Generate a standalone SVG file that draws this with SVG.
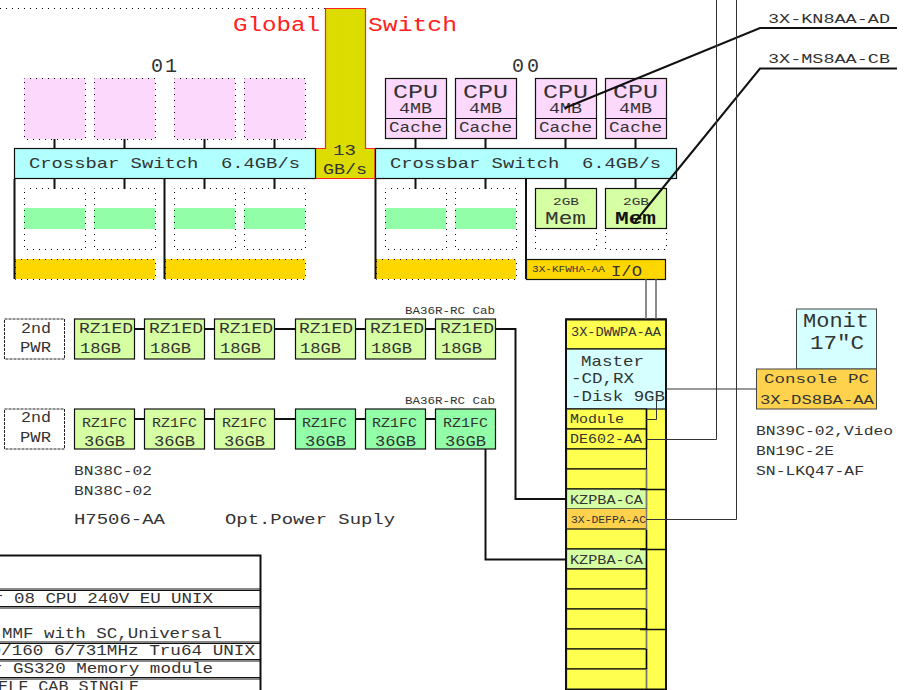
<svg xmlns="http://www.w3.org/2000/svg" width="906" height="690" viewBox="0 0 906 690">
<style>
text{font-family:"Liberation Mono","Courier New",monospace;fill:#333;white-space:pre}
.b{stroke:#111;stroke-width:1.2}
.d{stroke:#000;stroke-width:1;stroke-dasharray:1 5;stroke-dashoffset:.5;fill:none}
.pink{fill:#fdd8fd}.lg{fill:#d6ffa4}.g{fill:#92ffa8}.gold{fill:#ffd700;stroke:none}.cy{fill:#b2ffff}.lc{fill:#d6ffff}.y{fill:#ffff50}.o{fill:#ffd24d}
.w{fill:#fff}.t20{font-size:20px}.t15{font-size:15px}.t13{font-size:13px}.t10{font-size:10.5px}
.c{fill:none;stroke:#111;stroke-width:2}.c1{fill:none;stroke:#333;stroke-width:1}.cg{fill:none;stroke:#666;stroke-width:1.5}
.dash{stroke:#222;stroke-width:1;stroke-dasharray:3 1}
</style>
<path d="M0 8.500H325" stroke="#000" stroke-dasharray="1 5" fill="none"/>
<g id="global-switch"><path d="M325.500 8.500H365.500V148.500H375V178.500H315V148.500H325.500Z" fill="#dcdc00" stroke="#ff2020" stroke-width="1.200"/>
<text class="t20" x="233" y="31" textLength="87" lengthAdjust="spacingAndGlyphs" style="fill:#ff2020">Global</text>
<text class="t20" x="368" y="31" textLength="89" lengthAdjust="spacingAndGlyphs" style="fill:#ff2020">Switch</text>
<text class="t15" x="333" y="155" textLength="23" lengthAdjust="spacingAndGlyphs">13</text>
<text class="t15" x="323" y="174" textLength="44" lengthAdjust="spacingAndGlyphs">GB/s</text></g>
<text id="label-01" class="t20" x="151" y="72" textLength="26" lengthAdjust="spacing">01</text>
<text id="label-00" class="t20" x="512" y="72" textLength="27" lengthAdjust="spacing">00</text>

<g id="cpu-01-a"><rect x="24" y="78" width="61" height="61" class="pink"/><rect x="24.500" y="78.500" width="61" height="61" class="d"/></g>
<g id="cpu-01-b"><rect x="94" y="78" width="61" height="61" class="pink"/><rect x="94.500" y="78.500" width="61" height="61" class="d"/></g>
<g id="cpu-01-c"><rect x="174" y="78" width="61" height="61" class="pink"/><rect x="174.500" y="78.500" width="61" height="61" class="d"/></g>
<g id="cpu-01-d"><rect x="244" y="78" width="61" height="61" class="pink"/><rect x="244.500" y="78.500" width="61" height="61" class="d"/></g>

<g id="crossbar-01"><rect x="14.500" y="148.500" width="301" height="30" class="cy b"/><text class="t15" x="29" y="168" textLength="271" lengthAdjust="spacingAndGlyphs">Crossbar Switch  6.4GB/s</text></g>
<g id="crossbar-00"><rect x="375.500" y="148.500" width="301" height="30" class="cy b"/><text class="t15" x="390" y="168" textLength="271" lengthAdjust="spacingAndGlyphs">Crossbar Switch  6.4GB/s</text></g>

<g id="mem-01-a"><rect x="24" y="208" width="61" height="21" class="g"/><rect x="24.500" y="188.500" width="61" height="61" class="d"/></g>
<g id="mem-01-b"><rect x="94" y="208" width="61" height="21" class="g"/><rect x="94.500" y="188.500" width="61" height="61" class="d"/></g>
<g id="mem-01-c"><rect x="174" y="208" width="61" height="21" class="g"/><rect x="174.500" y="188.500" width="61" height="61" class="d"/></g>
<g id="mem-01-d"><rect x="244" y="208" width="61" height="21" class="g"/><rect x="244.500" y="188.500" width="61" height="61" class="d"/></g>
<g id="mem-00-a"><rect x="385" y="208" width="61" height="21" class="g"/><rect x="385.500" y="188.500" width="61" height="61" class="d"/></g>
<g id="mem-00-b"><rect x="455" y="208" width="61" height="21" class="g"/><rect x="455.500" y="188.500" width="61" height="61" class="d"/></g>

<g id="io-01-a"><rect x="15" y="259" width="140" height="20" class="gold"/><rect x="15.500" y="259.500" width="140" height="20" class="d"/></g>
<g id="io-01-b"><rect x="165" y="259" width="140" height="20" class="gold"/><rect x="165.500" y="259.500" width="140" height="20" class="d"/></g>
<g id="io-00-a"><rect x="376" y="259" width="140" height="20" class="gold"/><rect x="376.500" y="259.500" width="140" height="20" class="d"/></g>
<g id="io-00-b"><rect x="526.500" y="259.500" width="139" height="20" class="gold"/><rect x="526.500" y="259.500" width="139" height="20" fill="none" class="b"/>
<text x="532" y="272" style="font-size:9px" textLength="73" lengthAdjust="spacingAndGlyphs">3X-KFWHA-AA</text><text class="t15" x="611" y="276" textLength="31" lengthAdjust="spacingAndGlyphs">I/O</text></g>

<g id="cpu-00-a"><rect x="385.500" y="78.500" width="61" height="60" class="pink b"/><path d="M385.500 118.500H446.500" class="b"/><text class="t20" x="393" y="98" textLength="45" lengthAdjust="spacingAndGlyphs">CPU</text><text class="t15" x="399" y="113" textLength="33" lengthAdjust="spacingAndGlyphs">4MB</text><text class="t15" x="389" y="132" textLength="53" lengthAdjust="spacingAndGlyphs">Cache</text></g>
<g id="cpu-00-b"><rect x="455.500" y="78.500" width="61" height="60" class="pink b"/><path d="M455.500 118.500H516.500" class="b"/><text class="t20" x="463" y="98" textLength="45" lengthAdjust="spacingAndGlyphs">CPU</text><text class="t15" x="469" y="113" textLength="33" lengthAdjust="spacingAndGlyphs">4MB</text><text class="t15" x="459" y="132" textLength="53" lengthAdjust="spacingAndGlyphs">Cache</text></g>
<g id="cpu-00-c"><rect x="535.500" y="78.500" width="61" height="60" class="pink b"/><path d="M535.500 118.500H596.500" class="b"/><text class="t20" x="543" y="98" textLength="45" lengthAdjust="spacingAndGlyphs">CPU</text><text class="t15" x="549" y="113" textLength="33" lengthAdjust="spacingAndGlyphs">4MB</text><text class="t15" x="539" y="132" textLength="53" lengthAdjust="spacingAndGlyphs">Cache</text></g>
<g id="cpu-00-d"><rect x="605.500" y="78.500" width="61" height="60" class="pink b"/><path d="M605.500 118.500H666.500" class="b"/><text class="t20" x="613" y="98" textLength="45" lengthAdjust="spacingAndGlyphs">CPU</text><text class="t15" x="619" y="113" textLength="33" lengthAdjust="spacingAndGlyphs">4MB</text><text class="t15" x="609" y="132" textLength="53" lengthAdjust="spacingAndGlyphs">Cache</text></g>

<g id="mem-00-c"><rect x="535.500" y="188.500" width="61" height="40" class="lg b"/><rect x="535.500" y="228.500" width="61" height="21" class="d"/><text x="553" y="205" style="font-size:11.500px" textLength="26" lengthAdjust="spacingAndGlyphs">2GB</text><text x="545" y="224" textLength="41" lengthAdjust="spacingAndGlyphs" style="font-size:18px">Mem</text></g>
<g id="mem-00-d"><rect x="605.500" y="188.500" width="61" height="40" class="lg b"/><rect x="605.500" y="228.500" width="61" height="21" class="d"/><text x="623" y="205" style="font-size:11.500px" textLength="26" lengthAdjust="spacingAndGlyphs">2GB</text><text x="615" y="224" textLength="41" lengthAdjust="spacingAndGlyphs" style="font-size:18px;font-weight:bold;fill:#111">Mem</text></g>

<g id="pwr-1"><rect x="4.500" y="319" width="60" height="40" class="w dash"/><text class="t15" x="21" y="333" textLength="30" lengthAdjust="spacingAndGlyphs">2nd</text><text class="t15" x="20" y="352" textLength="31" lengthAdjust="spacingAndGlyphs">PWR</text></g>
<g id="pwr-2"><rect x="4.500" y="409" width="60" height="40" class="w dash"/><text class="t15" x="21" y="422" textLength="30" lengthAdjust="spacingAndGlyphs">2nd</text><text class="t15" x="20" y="442" textLength="31" lengthAdjust="spacingAndGlyphs">PWR</text></g>

<g id="d1a"><rect x="74.500" y="319" width="60" height="40" class="lg b"/><text class="t15" x="79" y="333" textLength="54" lengthAdjust="spacingAndGlyphs">RZ1ED</text><text class="t15" x="80" y="353" textLength="41" lengthAdjust="spacingAndGlyphs">18GB</text></g>
<g id="d1b"><rect x="144.500" y="319" width="60" height="40" class="lg b"/><text class="t15" x="149" y="333" textLength="54" lengthAdjust="spacingAndGlyphs">RZ1ED</text><text class="t15" x="150" y="353" textLength="41" lengthAdjust="spacingAndGlyphs">18GB</text></g>
<g id="d1c"><rect x="214.500" y="319" width="60" height="40" class="lg b"/><text class="t15" x="219" y="333" textLength="54" lengthAdjust="spacingAndGlyphs">RZ1ED</text><text class="t15" x="220" y="353" textLength="41" lengthAdjust="spacingAndGlyphs">18GB</text></g>
<g id="d1d"><rect x="295.500" y="319" width="60" height="40" class="lg b"/><text class="t15" x="299" y="333" textLength="54" lengthAdjust="spacingAndGlyphs">RZ1ED</text><text class="t15" x="300" y="353" textLength="41" lengthAdjust="spacingAndGlyphs">18GB</text></g>
<g id="d1e"><rect x="365.500" y="319" width="60" height="40" class="lg b"/><text class="t15" x="370" y="333" textLength="54" lengthAdjust="spacingAndGlyphs">RZ1ED</text><text class="t15" x="371" y="353" textLength="41" lengthAdjust="spacingAndGlyphs">18GB</text></g>
<g id="d1f"><rect x="435.500" y="319" width="60" height="40" class="lg b"/><text class="t15" x="440" y="333" textLength="54" lengthAdjust="spacingAndGlyphs">RZ1ED</text><text class="t15" x="441" y="353" textLength="41" lengthAdjust="spacingAndGlyphs">18GB</text></g>

<g id="d2a"><rect x="74.500" y="409" width="60" height="40" class="lg b"/><text class="t13" x="82" y="427" textLength="45" lengthAdjust="spacingAndGlyphs">RZ1FC</text><text class="t15" x="84" y="446" textLength="41" lengthAdjust="spacingAndGlyphs">36GB</text></g>
<g id="d2b"><rect x="144.500" y="409" width="60" height="40" class="lg b"/><text class="t13" x="152" y="427" textLength="45" lengthAdjust="spacingAndGlyphs">RZ1FC</text><text class="t15" x="154" y="446" textLength="41" lengthAdjust="spacingAndGlyphs">36GB</text></g>
<g id="d2c"><rect x="214.500" y="409" width="60" height="40" class="lg b"/><text class="t13" x="222" y="427" textLength="45" lengthAdjust="spacingAndGlyphs">RZ1FC</text><text class="t15" x="224" y="446" textLength="41" lengthAdjust="spacingAndGlyphs">36GB</text></g>
<g id="d2d"><rect x="295.500" y="409" width="60" height="40" class="g b"/><text class="t13" x="302" y="427" textLength="45" lengthAdjust="spacingAndGlyphs">RZ1FC</text><text class="t15" x="305" y="446" textLength="41" lengthAdjust="spacingAndGlyphs">36GB</text></g>
<g id="d2e"><rect x="365.500" y="409" width="60" height="40" class="g b"/><text class="t13" x="372" y="427" textLength="45" lengthAdjust="spacingAndGlyphs">RZ1FC</text><text class="t15" x="375" y="446" textLength="41" lengthAdjust="spacingAndGlyphs">36GB</text></g>
<g id="d2f"><rect x="435.500" y="409" width="60" height="40" class="g b"/><text class="t13" x="443" y="427" textLength="45" lengthAdjust="spacingAndGlyphs">RZ1FC</text><text class="t15" x="445" y="446" textLength="41" lengthAdjust="spacingAndGlyphs">36GB</text></g>

<g id="labels">
<text class="t10" x="405" y="314" textLength="90" lengthAdjust="spacingAndGlyphs">BA36R-RC Cab</text>
<text class="t10" x="405" y="404" textLength="90" lengthAdjust="spacingAndGlyphs">BA36R-RC Cab</text>
<text class="t13" x="74" y="475" textLength="78" lengthAdjust="spacingAndGlyphs">BN38C-02</text>
<text class="t13" x="74" y="495" textLength="78" lengthAdjust="spacingAndGlyphs">BN38C-02</text>
<text class="t15" x="74" y="524" textLength="91" lengthAdjust="spacingAndGlyphs">H7506-AA</text>
<text class="t15" x="225" y="524" textLength="170" lengthAdjust="spacingAndGlyphs">Opt.Power Suply</text>
<text class="t13" x="768" y="23" textLength="122" lengthAdjust="spacingAndGlyphs">3X-KN8AA-AD</text>
<text class="t13" x="768" y="63" textLength="122" lengthAdjust="spacingAndGlyphs">3X-MS8AA-CB</text>
<text class="t13" x="756" y="435" textLength="137" lengthAdjust="spacingAndGlyphs">BN39C-02,Video</text>
<text class="t13" x="756" y="455" textLength="78" lengthAdjust="spacingAndGlyphs">BN19C-2E</text>
<text class="t13" x="756" y="475" textLength="108" lengthAdjust="spacingAndGlyphs">SN-LKQ47-AF</text>
</g>

<g id="rack"><rect x="566" y="319" width="100" height="371" class="y"/>
<rect x="566" y="319" width="100" height="30" class="y b"/>
<rect x="566" y="349" width="100" height="60" class="lc b"/>
<rect x="566.500" y="409" width="80" height="20" class="y b"/>
<rect x="566.500" y="429" width="80" height="20" class="y b"/>
<rect x="566.500" y="449" width="80" height="20" class="y b"/>
<rect x="566.500" y="469" width="80" height="20" class="y b"/>
<rect x="566.500" y="489" width="80" height="20" class="lg b"/>
<rect x="566.500" y="509" width="80" height="20" class="o"/>
<rect x="566.500" y="529" width="80" height="20" class="y b"/>
<rect x="566.500" y="549" width="80" height="20" class="lg b"/>
<rect x="566.500" y="569" width="80" height="20" class="y b"/>
<rect x="566.500" y="589" width="80" height="20" class="y b"/>
<rect x="566.500" y="609" width="80" height="20" class="y b"/>
<rect x="566.500" y="629" width="80" height="20" class="y b"/>
<rect x="566.500" y="649" width="80" height="20" class="y b"/>
<rect x="566.500" y="669" width="80" height="21" class="y b"/>
<path d="M646.500 469V530M646.500 589V609M646.500 629V649M646.500 669V690" fill="none" stroke="#777" stroke-width="1.500"/>
<path d="M646.500 409V449M646.500 530V589M646.500 609V629M646.500 649V669" fill="none" stroke="#000" stroke-width="1.500"/>
<path d="M640 489.500H666M640 549.500H666M640 629.500H666" fill="none" stroke="#111" stroke-width="1.500"/>
<path d="M656.500 400V419.500H646" fill="none" stroke="#333"/>
<path d="M566 319.500H666V689.500H566Z" fill="none" stroke="#111" stroke-width="2"/>
<text class="t13" x="571" y="336" textLength="90" lengthAdjust="spacingAndGlyphs">3X-DWWPA-AA</text>
<text class="t15" x="581" y="366" textLength="63" lengthAdjust="spacingAndGlyphs">Master</text>
<text class="t15" x="571" y="383" textLength="63" lengthAdjust="spacingAndGlyphs">-CD,RX</text>
<text class="t15" x="571" y="401" textLength="94" lengthAdjust="spacingAndGlyphs">-Disk 9GB</text>
<text class="t13" x="570" y="423" textLength="54" lengthAdjust="spacingAndGlyphs">Module</text>
<text class="t13" x="570" y="443" textLength="72" lengthAdjust="spacingAndGlyphs">DE602-AA</text>
<text class="t13" x="570" y="504" textLength="73" lengthAdjust="spacingAndGlyphs">KZPBA-CA</text>
<text x="571" y="523" style="font-size:10px" textLength="75" lengthAdjust="spacingAndGlyphs">3X-DEFPA-AC</text>
<text class="t13" x="570" y="564" textLength="73" lengthAdjust="spacingAndGlyphs">KZPBA-CA</text>
</g>

<g id="monitor"><rect x="796.500" y="309" width="80" height="60" class="lc" stroke="#444"/><text class="t20" x="803" y="327" textLength="66" lengthAdjust="spacingAndGlyphs">Monit</text><text class="t20" x="810" y="349" textLength="54" lengthAdjust="spacingAndGlyphs">17"C</text></g>
<g id="console"><rect x="756.500" y="369" width="120" height="40" class="o" stroke="#444"/><text class="t13" x="764" y="383" textLength="105" lengthAdjust="spacingAndGlyphs">Console PC</text><text class="t13" x="760" y="404" textLength="114" lengthAdjust="spacingAndGlyphs">3X-DS8BA-AA</text></g>

<g id="parts-table">
<path d="M0 555.500H260.500V690" fill="none" stroke="#111" stroke-width="2"/>
<path d="M0 589H260.500M0 590.500H260.500M0 606.500H260.500M0 608H260.500M0 642H260.500M0 643.500H260.500M0 659.500H260.500M0 661H260.500M0 677.500H260.500M0 679H260.500" fill="none" stroke="#111" stroke-width="1.200"/>
<text class="t15" x="-7" y="603" textLength="220" lengthAdjust="spacingAndGlyphs">r 08 CPU 240V EU UNIX</text>
<text class="t15" x="2" y="638" textLength="220" lengthAdjust="spacingAndGlyphs">MMF with SC,Universal</text>
<text class="t15" x="-9.500" y="655" textLength="264.500" lengthAdjust="spacingAndGlyphs">0/160 6/731MHz Tru64 UNIX</text>
<text class="t15" x="-8" y="673" textLength="221" lengthAdjust="spacingAndGlyphs">r GS320 Memory module</text>
<text class="t15" x="-2" y="691" textLength="141" lengthAdjust="spacingAndGlyphs">ELF CAB SINGLE</text>
</g>

<g id="connectors">
<path class="c" d="M54.500 139V149M124.500 139V149M204.500 139V149M274.500 139V149M54.500 179V189M124.500 179V189M204.500 179V189M274.500 179V189M415.500 139V149M485.500 139V149M565.500 139V149M635.500 139V149M415.500 179V189M485.500 179V189M565.500 179V189M635.500 179V189"/>
<path class="c" d="M14.500 179V279M164.500 179V279M375.500 179V279M526 179V279"/>
<path class="c" d="M135 329H144M205 329H214M275 329H295M356 329H365M426 329H435M135 419H144M205 419H214M275 419H295M356 419H365M426 419H435"/>
<path class="c" d="M496 329H515.500V499H566M485.500 449V559.500H566"/>
<path class="c" d="M565 108L760 28H897M635 222L760 68.500H897"/>
<path class="cg" d="M646 279V319M656 279V319"/>
<path class="c1" d="M666 389H756M646 439.500H716.500V0M646 519.500H736.500V0"/>
</g>
</svg>
